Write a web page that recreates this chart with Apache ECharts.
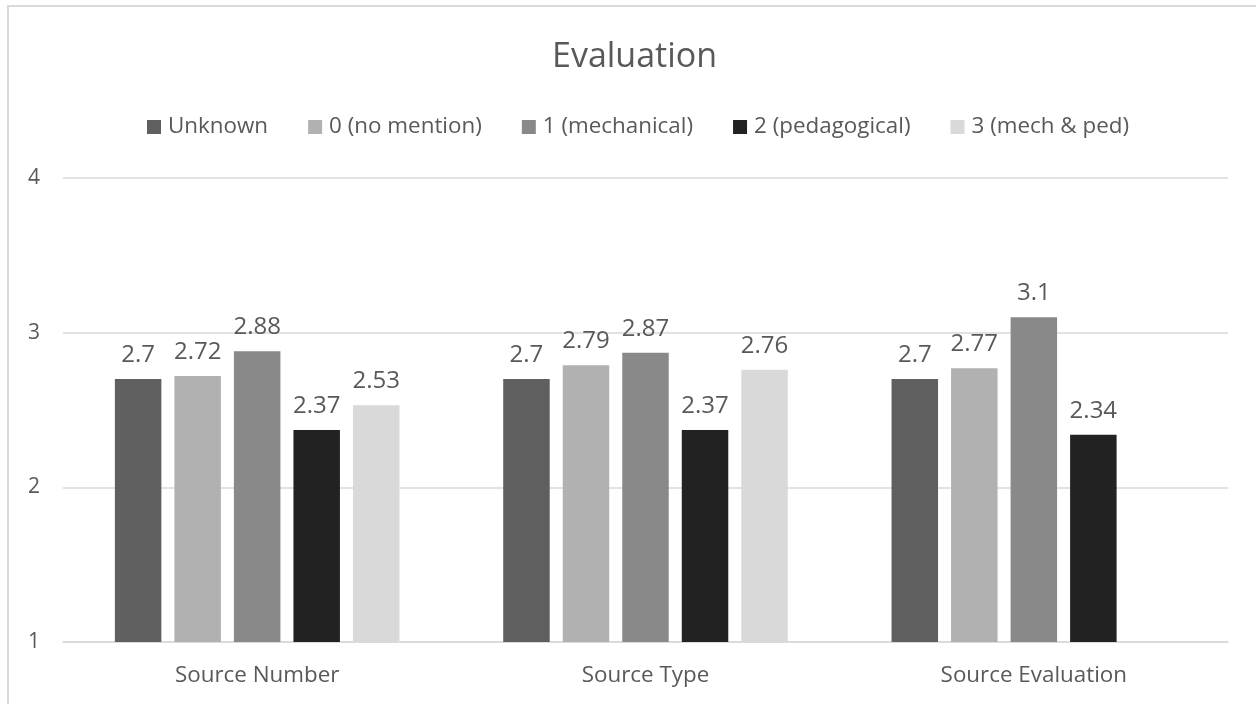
<!DOCTYPE html>
<html>
<head>
<meta charset="utf-8">
<script src="https://cdn.jsdelivr.net/npm/echarts@6/dist/echarts.min.js"></script>
<style>
html,body{margin:0;padding:0;background:#fff;}
#chart{width:1256px;height:704px;}
</style>
</head>
<body>
<div id="chart"></div>
<script>
const categories = ['Source Number', 'Source Type', 'Source Evaluation'];
const seriesNames = ['Unknown', '0 (no mention)', '1 (mechanical)', '2 (pedagogical)', '3 (mech & ped)'];
const unknownValues = [2.7, 2.7, 2.7];
const noMentionValues = [2.72, 2.79, 2.77];
const mechanicalValues = [2.88, 2.87, 3.1];
const pedagogicalValues = [2.37, 2.37, 2.34];
const mechPedValues = [2.53, 2.76, null];
const seriesValues = [unknownValues, noMentionValues, mechanicalValues, pedagogicalValues, mechPedValues];
const seriesColors = ['#5f5f5f', '#b1b1b1', '#898989', '#222222', '#d9d9d9'];
const yTicks = { min: 1, max: 4, interval: 1 };

const FONT = 'Open Sans';
const TEXT = '#595959';

const chart = echarts.init(document.getElementById('chart'), null, { renderer: 'canvas' });
chart.setOption({
  animation: false,
  backgroundColor: '#ffffff',
  textStyle: { fontFamily: FONT, color: TEXT },
  graphic: [{
    type: 'rect',
    shape: { x: 8, y: 6, width: 1400, height: 900 },
    style: { fill: null, stroke: '#d9d9d9', lineWidth: 2 },
    silent: true,
    z: -10
  }],
  title: {
    text: 'Evaluation',
    left: 547,
    top: 35,
    textStyle: { fontFamily: FONT, fontSize: 34, fontWeight: 'normal', color: TEXT }
  },
  legend: {
    data: seriesNames,
    left: 142,
    top: 111,
    icon: 'rect',
    itemWidth: 14,
    itemHeight: 14,
    itemGap: 40,
    textStyle: { fontFamily: FONT, fontSize: 22.4, color: TEXT, padding: [0, 0, 0, 2] }
  },
  grid: { left: 63, right: 28, top: 178, bottom: 62, containLabel: false },
  xAxis: {
    type: 'category',
    data: categories,
    axisLine: { lineStyle: { color: '#d9d9d9', width: 1.5 } },
    axisTick: { show: false },
    axisLabel: { fontFamily: FONT, fontSize: 22.4, color: TEXT, margin: 23 }
  },
  yAxis: {
    type: 'value',
    min: yTicks.min,
    max: yTicks.max,
    interval: yTicks.interval,
    axisLine: { show: false },
    axisTick: { show: false },
    axisLabel: { fontFamily: FONT, fontSize: 21, color: TEXT, margin: 23 },
    splitLine: { lineStyle: { color: '#d9d9d9', width: 1.5 } }
  },
  series: seriesNames.map((name, i) => ({
    name: name,
    type: 'bar',
    data: seriesValues[i],
    barWidth: 46.5,
    barGap: '28%',
    itemStyle: { color: seriesColors[i] },
    label: {
      show: true,
      position: 'top',
      distance: 12,
      fontFamily: FONT,
      fontSize: 24,
      color: TEXT
    }
  }))
});
</script>
</body>
</html>
